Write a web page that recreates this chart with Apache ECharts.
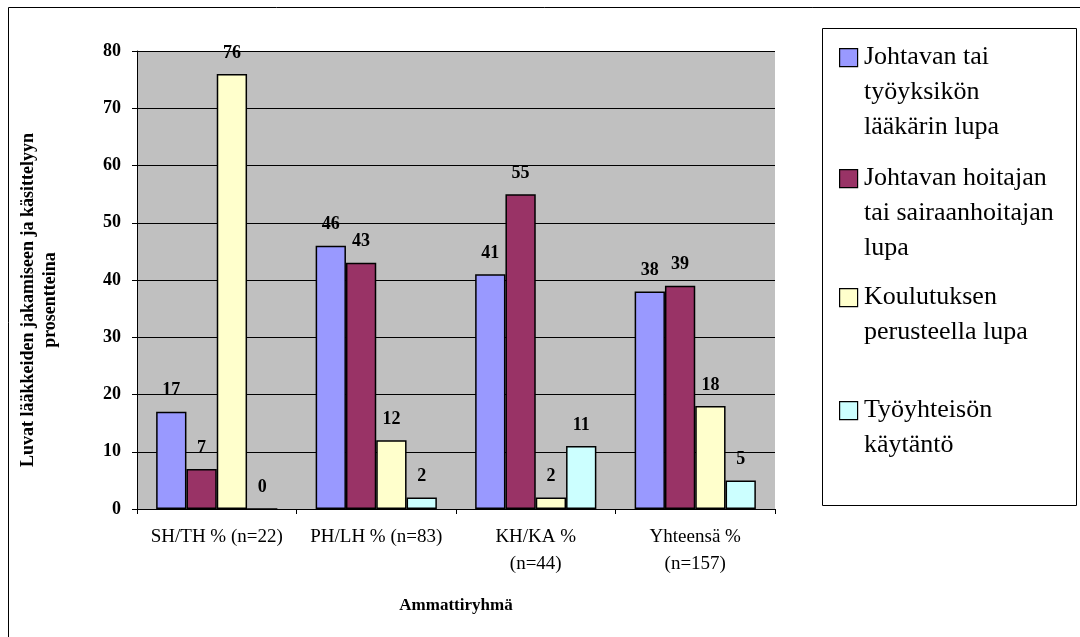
<!DOCTYPE html>
<html>
<head>
<meta charset="utf-8">
<script src="https://cdn.jsdelivr.net/npm/echarts@6/dist/echarts.min.js"></script>
<style>
  html, body { margin: 0; padding: 0; background: #fff; }
  #chart { width: 1080px; height: 637px; }
</style>
</head>
<body>
<div id="chart"></div>
<script>
// ammattiryhmät
const categories = ['SH/TH % (n=22)', 'PH/LH % (n=83)', 'KH/KA %\n(n=44)', 'Yhteensä %\n(n=157)']
const seriesNames = [
    'Johtavan tai\ntyöyksikön\nlääkärin lupa',
    'Johtavan hoitajan\ntai sairaanhoitajan\nlupa',
    'Koulutuksen\nperusteella lupa',
    'Työyhteisön\nkäytäntö'
]
const laakarinLupa = [17, 46, 41, 38]
const hoitajanLupa = [7, 43, 55, 39]
const koulutus = [76, 12, 2, 18]
const kaytanto = [0, 2, 11, 5]
const yTicks = [0, 10, 20, 30, 40, 50, 60, 70, 80]

const COLOR = ['#9999ff', '#993366', '#ffffcc', '#ccffff']
const SERIF = '"Liberation Serif", "Times New Roman", serif'
const values = [laakarinLupa, hoitajanLupa, koulutus, kaytanto]

const myChart = echarts.init(document.getElementById('chart'))

// legenda: ikonit legendasta, monirivinen teksti graphic-elementteinä,
// jotta ikoni osuu ensimmäisen rivin kohdalle
const LINE_H = 35
const legendCenters = [57, 178, 297, 410]
const legends = seriesNames.map((name, i) => ({
    data: [name],
    left: 839,
    top: legendCenters[i] - 9,
    padding: 0,
    itemWidth: 18,
    itemHeight: 18,
    itemGap: 0,
    icon: 'rect',
    selectedMode: false,
    formatter: () => ' ',
    itemStyle: { borderColor: '#000', borderWidth: 1.2 },
    textStyle: { fontSize: 1 }
}))
const legendLabels = seriesNames.map((name, i) => ({
    type: 'text',
    x: 864,
    y: legendCenters[i] - LINE_H / 2,
    silent: true,
    style: {
        text: name,
        fontFamily: SERIF,
        fontSize: 26,
        lineHeight: LINE_H,
        fill: '#000',
        align: 'left',
        verticalAlign: 'top'
    }
}))

const option = {
    animation: false,
    backgroundColor: '#fff',
    textStyle: { fontFamily: SERIF },
    grid: {
        left: 137, top: 51, right: 305, bottom: 128,
        show: true, backgroundColor: '#c0c0c0', borderWidth: 0
    },
    legend: legends,
    xAxis: {
        type: 'category',
        data: categories,
        name: 'Ammattiryhmä',
        nameLocation: 'middle',
        nameGap: 88,
        nameTextStyle: { fontFamily: SERIF, fontSize: 17, fontWeight: 'bold', color: '#000' },
        axisLine: { lineStyle: { color: '#000', width: 1 } },
        axisTick: { show: true, length: 5, lineStyle: { color: '#000' } },
        axisLabel: {
            fontFamily: SERIF, fontSize: 19, color: '#000',
            lineHeight: 27, margin: 15, interval: 0
        }
    },
    yAxis: {
        type: 'value',
        min: yTicks[0],
        max: yTicks[yTicks.length - 1],
        interval: 10,
        name: 'Luvat lääkkeiden jakamiseen ja käsittelyyn\nprosentteina',
        nameLocation: 'middle',
        nameGap: 76,
        nameTextStyle: {
            fontFamily: SERIF, fontSize: 18, fontWeight: 'bold', color: '#000',
            lineHeight: 22, padding: [0, 40, 0, 0]
        },
        axisLine: { show: true, lineStyle: { color: '#000', width: 1 } },
        axisTick: { show: true, length: 5, lineStyle: { color: '#000' } },
        axisLabel: { fontFamily: SERIF, fontSize: 18, fontWeight: 'bold', color: '#000', margin: 16 },
        splitLine: { lineStyle: { color: '#000', width: 1 } }
    },
    series: seriesNames.map((name, i) => ({
        name: name,
        type: 'bar',
        data: values[i],
        barGap: '0%',
        barCategoryGap: '24%',
        itemStyle: { color: COLOR[i], borderColor: '#000', borderWidth: 1.5 },
        label: {
            show: true,
            position: 'top',
            distance: 12,
            fontFamily: SERIF,
            fontSize: 18,
            fontWeight: 'bold',
            color: '#000'
        }
    })),
    graphic: [
        // kaavion ulkoreuna
        { type: 'rect', shape: { x: 8.5, y: 7.5, width: 1200, height: 800 },
          style: { fill: 'none', stroke: '#000', lineWidth: 1 }, silent: true },
        // legendan kehys
        { type: 'rect', shape: { x: 822.5, y: 28.5, width: 254, height: 477 },
          style: { fill: 'none', stroke: '#000', lineWidth: 1 }, silent: true }
    ].concat(legendLabels)
}

myChart.setOption(option)
</script>
</body>
</html>
